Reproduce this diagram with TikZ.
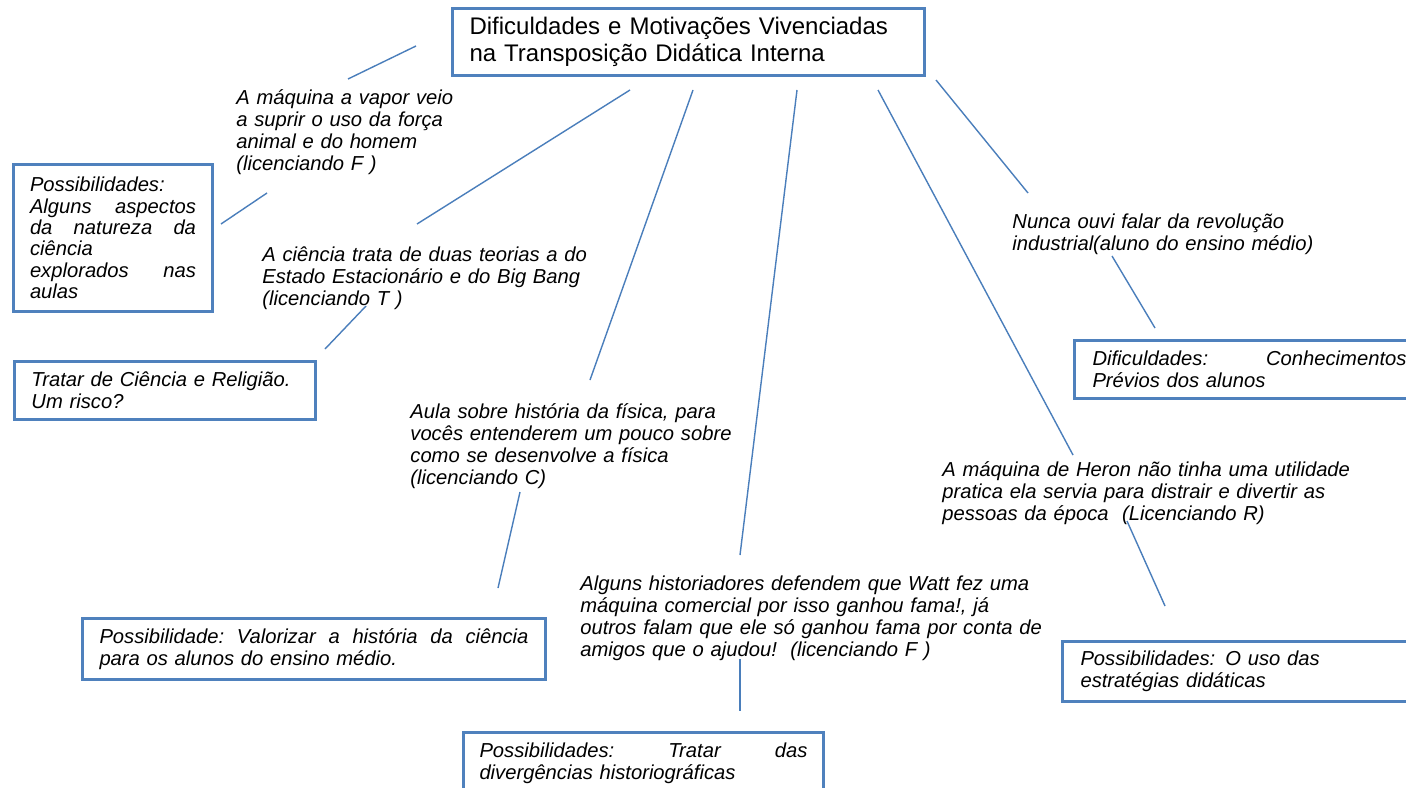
\documentclass[tikz,border=0pt]{standalone}
\usepackage{fontspec}
\setmainfont{Liberation Sans}
\definecolor{boxblue}{HTML}{4F81BD}
\definecolor{lineblue}{HTML}{4A7EBB}
\newcommand{\txtfont}{\itshape\fontsize{10.1}{11}\selectfont}
\tikzset{
  box/.style={draw=boxblue, line width=1.5pt, fill=white, anchor=north west,
    align=left, inner ysep=0pt, font=\txtfont},
  freetext/.style={anchor=base west, inner sep=0pt, align=left, text width=#1, font=\txtfont},
  conn/.style={draw=lineblue, line width=0.7pt},
}
\begin{document}
\begin{tikzpicture}[x=0.5pt,y=-0.5pt]
\clip (0,0) rectangle (1406,787);
\fill[white] (0,0) rectangle (1406,787);

% title box
\node[box, font=\fontsize{12}{13.5}\selectfont, minimum width=236pt, minimum height=33.5pt,
  text width=219pt, inner xsep=8.5pt] (title) at (451,7)
  {Dificuldades e Motivações Vivenciadas\\na Transposição Didática Interna};

% boxes
\node[box, font=\itshape\fontsize{10.1}{10.7}\selectfont, minimum width=99.5pt, minimum height=73.5pt,
  text width=83pt, inner xsep=8.25pt] (b1) at (12,163)
  {Possibilidades:\\Alguns\hfill aspectos\\da\hfill natureza\hfill da\\ciência\\explorados\hfill nas\\aulas};
\node[box, minimum width=150.5pt, minimum height=29pt, text width=133.5pt, inner xsep=8.5pt] (b2) at (13,360)
  {Tratar de Ciência e Religião.\\Um risco?};
\node[box, minimum width=231.5pt, minimum height=30.5pt, text width=214.5pt, inner xsep=8.5pt] (b3) at (81,617)
  {Possibilidade:\hfill Valorizar\hfill a\hfill história\hfill da\hfill ciência\\para os alunos do ensino médio.};
\node[box, minimum width=180pt, minimum height=31pt, text width=164pt, inner xsep=8pt] (b4) at (462,731)
  {Possibilidades:\hfill Tratar\hfill das\\divergências historiográficas};
\node[box, minimum width=175pt, minimum height=29pt, text width=157pt, inner xsep=9pt] (b5) at (1073,339)
  {Dificuldades:\hfill Conhecimentos\\Prévios dos alunos};
\node[box, minimum width=182pt, minimum height=30pt, text width=164pt, inner xsep=9pt] (b6) at (1061,640)
  {Possibilidades: O uso das\\estratégias didáticas};

% free texts
\node[freetext=130pt] (f1) at (236,104)
  {A máquina a vapor veio\\a suprir o uso da força\\animal e do homem\\(licenciando F )};
\node[freetext=180pt] (f2) at (262,261)
  {A ciência trata de duas teorias a do\\Estado Estacionário e do Big Bang\\(licenciando T )};
\node[freetext=180pt] (f3) at (410,418)
  {Aula sobre história da física, para\\vocês entenderem um pouco sobre\\como se desenvolve a física\\(licenciando C)};
\node[freetext=240pt] (f4) at (580,590)
  {Alguns historiadores defendem que Watt fez uma\\máquina comercial por isso ganhou fama!, já\\outros falam que ele só ganhou fama por conta de\\amigos que o ajudou!\ \ (licenciando F )};
\node[freetext=220pt] (f5) at (942,476)
  {A máquina de Heron não tinha uma utilidade\\pratica ela servia para distrair e divertir as\\pessoas da época\ \ (Licenciando R)};
\node[freetext=180pt] (f6) at (1012,228)
  {Nunca ouvi falar da revolução\\industrial(aluno do ensino médio)};

% connector end points
\coordinate (c1a) at (416,46);   \coordinate (c1b) at (348,79);
\coordinate (c2a) at (267,193);  \coordinate (c2b) at (221,224);
\coordinate (c3a) at (630,90);   \coordinate (c3b) at (417,224);
\coordinate (c4a) at (366,306);  \coordinate (c4b) at (325,349);
\coordinate (c5a) at (693,90);   \coordinate (c5b) at (590,380);
\coordinate (c6a) at (520,492);  \coordinate (c6b) at (498,588);
\coordinate (c7a) at (797,90);   \coordinate (c7b) at (740,555);
\coordinate (c8a) at (740,659);  \coordinate (c8b) at (740,711);
\coordinate (c9a) at (878,90);   \coordinate (c9b) at (1073,455);
\coordinate (c10a) at (1127,521); \coordinate (c10b) at (1165,606);
\coordinate (c11a) at (936,80);  \coordinate (c11b) at (1028,193);
\coordinate (c12a) at (1112,256); \coordinate (c12b) at (1155,328);

\draw[conn] (c1a) -- (c1b);
\draw[conn] (c2a) -- (c2b);
\draw[conn] (c3a) -- (c3b);
\draw[conn] (c4a) -- (c4b);
\draw[conn] (c5a) -- (c5b);
\draw[conn] (c6a) -- (c6b);
\draw[conn] (c7a) -- (c7b);
\draw[conn] (c8a) -- (c8b);
\draw[conn] (c9a) -- (c9b);
\draw[conn] (c10a) -- (c10b);
\draw[conn] (c11a) -- (c11b);
\draw[conn] (c12a) -- (c12b);
\end{tikzpicture}
\end{document}
